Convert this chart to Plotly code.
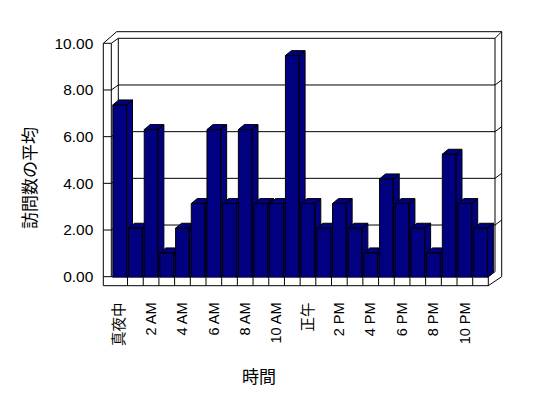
import plotly.graph_objects as go

# ---- data ----
hours = list(range(24))
visits_avg = [7, 2, 6, 1, 2, 3, 6, 3, 6, 3, 3, 9, 3, 2, 3, 2, 1, 4, 3, 2, 1, 5, 3, 2]
tick_hours = [0, 2, 4, 6, 8, 10, 12, 14, 16, 18, 20, 22]
tick_labels = ["真夜中", "2 AM", "4 AM", "6 AM", "8 AM", "10 AM",
               "正午", "2 PM", "4 PM", "6 PM", "8 PM", "10 PM"]
y_ticks = [0, 2, 4, 6, 8, 10]
y_title = "訪問数の平均"
x_title = "時間"

OFF = 8                      # page body margin
W, H = 548 - 2 * OFF, 398 - 2 * OFF
NAVY = "#000080"
FONT = "Liberation Sans, Arial, Noto Sans CJK JP"


def px(x):
    return (x - OFF) / W


def py(y):
    return 1 - (y - OFF) / H


fig = go.Figure()

# 3D-look bars (front, side, top faces) built from the data
hw = 0.437   # half width of front face (category units)
dx = 0.38    # depth offset in x (category units)
dy = 0.20    # depth offset in y (value units)
for h, v in zip(hours, visits_avg):
    xs = [h - hw, h + hw, h + hw, h - hw, h - hw, None,
          h + hw, h + hw + dx, h + hw + dx, h + hw, h + hw, None,
          h - hw, h + hw, h + hw + dx, h - hw + dx, h - hw]
    ys = [0, 0, v, v, 0, None,
          0, dy, v + dy, v, 0, None,
          v, v, v + dy, v + dy, v]
    fig.add_trace(go.Scatter(x=xs, y=ys, mode="lines", fill="toself",
                             fillcolor=NAVY, line=dict(color="black", width=1),
                             hoverinfo="skip", showlegend=False))

# invisible trace to carry the labelled value axis
fig.add_trace(go.Scatter(x=[0], y=[0], yaxis="y2", mode="markers",
                         marker=dict(opacity=0), hoverinfo="skip", showlegend=False))

cat_w = 15.69
x0_px = 111.85
fig.update_layout(
    width=W, height=H,
    margin=dict(l=0, r=0, t=0, b=0, pad=0, autoexpand=False),
    paper_bgcolor="white", plot_bgcolor="rgba(0,0,0,0)",
    showlegend=False, hovermode=False,
    font=dict(family=FONT, color="black"),
    xaxis=dict(domain=[px(x0_px), px(x0_px + 25 * cat_w)], range=[-0.5, 24.5],
               tickmode="array", tickvals=tick_hours, ticktext=tick_labels,
               tickangle=-90, ticks="", showgrid=False, zeroline=False,
               showline=False, tickfont=dict(size=14.5, family=FONT),
               ticklabelstandoff=21, fixedrange=True, automargin=False),
    yaxis=dict(domain=[py(277.5), py(277.5 - 246.6)], range=[0, 10],
               showticklabels=False, showgrid=False, zeroline=False,
               showline=False, ticks="", fixedrange=True, automargin=False),
    yaxis2=dict(domain=[py(276.7), py(43.3)], range=[0, 10], anchor="free",
                position=px(103.3), side="left",
                tickmode="array", tickvals=y_ticks,
                ticktext=[f"{t:.2f}" for t in y_ticks],
                ticks="", showgrid=False, zeroline=False, showline=False,
                tickfont=dict(size=15.5, family=FONT), ticklabelstandoff=10,
                fixedrange=True, automargin=False),
)

shapes = []


def seg(x0, y0, x1, y1):
    shapes.append(dict(type="line", xref="paper", yref="paper",
                       x0=px(x0), y0=py(y0), x1=px(x1), y1=py(y1),
                       line=dict(color="black", width=1), layer="below"))


# left side wall
seg(103.3, 43.3, 103.3, 285.7)
seg(111.3, 43.3, 111.3, 276.7)
seg(118.3, 38.3, 118.3, 272)
seg(103.3, 43.3, 111.3, 43.3)
seg(103.3, 43.3, 116.7, 31.7)
seg(111.3, 43.3, 118.3, 38.3)
# back wall
seg(116.7, 31.7, 501.7, 31.7)
seg(118.3, 38.3, 495, 38.3)
seg(495, 38.3, 501.7, 31.7)
seg(495, 38.3, 495, 271.7)
seg(501.7, 31.7, 501.7, 276.7)
# gridlines on side wall and back wall
for t in y_ticks[1:-1]:
    yf = 276.7 - t * 23.34
    seg(103.3, yf, 111.3, yf)
    seg(111.3, yf, 118.3, yf - 5)
    seg(118.3, yf - 5, 495, yf - 5)
    seg(495, yf - 5, 501.7, yf - 10)
# floor
seg(103.3, 276.7, 488.3, 276.7)
seg(103.3, 285.7, 488.3, 285.7)
seg(488.3, 276.7, 488.3, 285.7)
seg(488.3, 285.7, 501.7, 276.7)
seg(488.3, 276.7, 495, 271.7)
fig.update_layout(shapes=shapes)

# floor category separators (data x, paper y)
for k in range(1, 24):
    fig.add_shape(type="line", xref="x", yref="paper", x0=k - 0.5, x1=k - 0.5,
                  y0=py(285.7), y1=py(276.7),
                  line=dict(color="black", width=1), layer="below")

fig.add_annotation(text=y_title, x=px(28), y=py(178), xref="paper", yref="paper",
                   xanchor="center", yanchor="middle",
                   textangle=-90, showarrow=False,
                   font=dict(size=17, family="Noto Sans CJK JP"))
fig.add_annotation(text=x_title, x=px(259), y=py(375), xref="paper", yref="paper",
                   xanchor="center", yanchor="middle",
                   showarrow=False, font=dict(size=17, family="Noto Sans CJK JP"))

fig.write_html("out.html")
